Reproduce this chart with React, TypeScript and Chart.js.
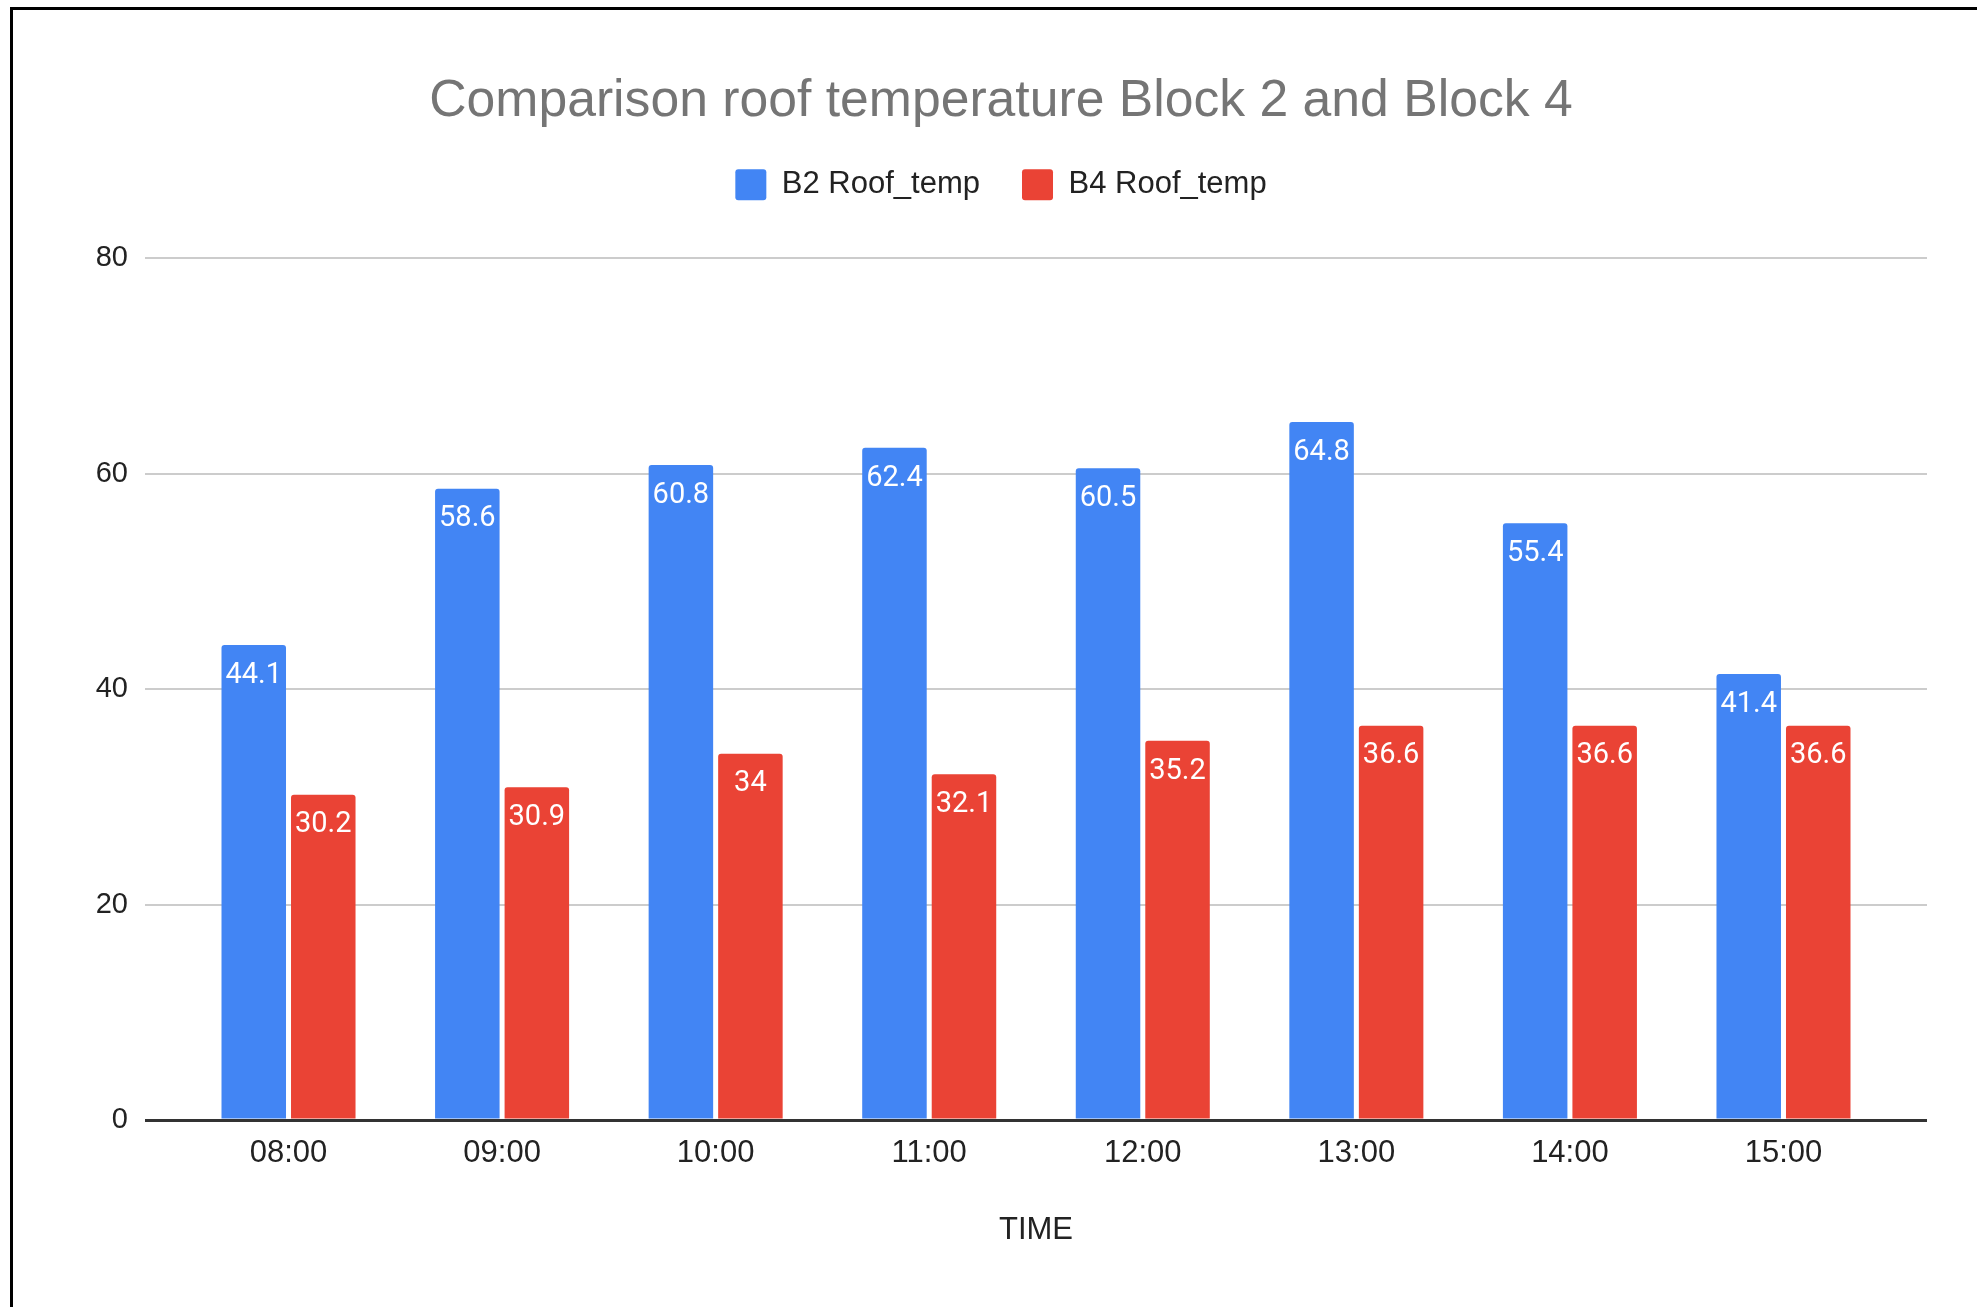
import React, { useEffect, useRef } from 'react';
import { Chart, registerables } from 'chart.js';

Chart.register(...registerables);

// Hourly readings
const TIMES = ['08:00', '09:00', '10:00', '11:00', '12:00', '13:00', '14:00', '15:00'];
const B2_ROOF_TEMP = [44.1, 58.6, 60.8, 62.4, 60.5, 64.8, 55.4, 41.4];
const B4_ROOF_TEMP = [30.2, 30.9, 34, 32.1, 35.2, 36.6, 36.6, 36.6];
const Y_TICKS = [0, 20, 40, 60, 80];
const SERIES_NAMES = ['B2 Roof_temp', 'B4 Roof_temp'];
const CHART_TITLE = 'Comparison roof temperature Block 2 and Block 4';
const X_TITLE = 'TIME';

const BLUE = '#4285F4';
const RED = '#EA4335';
const SANS = '"Liberation Sans", Arial, sans-serif';

// White value labels just inside the top of each bar
const valueLabels = {
  id: 'valueLabels',
  afterDatasetsDraw(chart: any) {
    const ctx = chart.ctx;
    ctx.save();
    ctx.font = '29px Roboto, "Liberation Sans", sans-serif';
    ctx.fillStyle = '#ffffff';
    ctx.textAlign = 'center';
    ctx.textBaseline = 'middle';
    chart.data.datasets.forEach((ds: any, di: number) => {
      const meta = chart.getDatasetMeta(di);
      meta.data.forEach((bar: any, i: number) => {
        const v = ds.data[i].y;
        ctx.fillText(String(v), bar.x, bar.y + 30.5);
      });
    });
    ctx.restore();
  },
};

const toPoints = (values: number[]) => values.map((y, i) => ({ x: i, y }));

export default function App() {
  const canvasRef = useRef<HTMLCanvasElement | null>(null);

  useEffect(() => {
    if (!canvasRef.current) return;
    const barStyle = {
      borderRadius: { topLeft: 3, topRight: 3, bottomLeft: 0, bottomRight: 0 },
      borderSkipped: 'start',
      borderWidth: 0,
      categoryPercentage: 0.651,
      barPercentage: 0.928,
    };
    const chart = new Chart(canvasRef.current, {
      type: 'bar',
      data: {
        datasets: [
          { label: SERIES_NAMES[0], data: toPoints(B2_ROOF_TEMP), backgroundColor: BLUE, ...barStyle },
          { label: SERIES_NAMES[1], data: toPoints(B4_ROOF_TEMP), backgroundColor: RED, ...barStyle },
        ] as any,
      },
      options: {
        responsive: false,
        animation: false,
        devicePixelRatio: 1,
        layout: { padding: { left: 62, right: 50, top: 0, bottom: 0 } },
        font: { family: SANS },
        plugins: {
          title: {
            display: true,
            text: CHART_TITLE,
            color: '#757575',
            font: { family: SANS, size: 51.7, weight: 'normal', lineHeight: 1.0 },
            padding: { top: 65.5, bottom: 0 },
          },
          legend: {
            position: 'top',
            labels: {
              boxWidth: 31,
              boxHeight: 31,
              padding: 42,
              color: '#222222',
              font: { family: SANS, size: 31 },
              useBorderRadius: true,
              borderRadius: 3,
            },
          },
          tooltip: { enabled: false },
        },
        scales: {
          x: {
            type: 'linear',
            min: -0.672,
            max: 7.672,
            offset: false,
            afterBuildTicks: (s: any) => {
              s.ticks = TIMES.map((_, i) => ({ value: i }));
            },
            afterFit: (s: any) => {
              s.height = 187;
            },
            grid: { display: false, drawTicks: false, offset: false },
            border: { display: false },
            ticks: {
              autoSkip: false,
              maxRotation: 0,
              padding: 15,
              color: '#222222',
              font: { family: SANS, size: 31 },
              callback: (v: any) => TIMES[v as number],
            },
            title: {
              display: true,
              text: X_TITLE,
              color: '#222222',
              font: { family: SANS, size: 31 },
              padding: { top: 0, bottom: 58 },
            },
          },
          legendGap: {
            type: 'linear',
            position: 'top',
            grid: { display: false, drawTicks: false },
            border: { display: false },
            ticks: { display: false },
            afterFit: (s: any) => {
              s.height = 48;
            },
          },
          y: {
            min: 0,
            max: 80,
            afterBuildTicks: (s: any) => {
              s.ticks = Y_TICKS.map((v) => ({ value: v }));
            },
            afterFit: (s: any) => {
              s.width = 70;
            },
            border: { display: false },
            grid: {
              drawTicks: false,
              color: (c: any) => (c.tick && c.tick.value === 0 ? '#333333' : '#cccccc'),
              lineWidth: (c: any) => (c.tick && c.tick.value === 0 ? 3 : 2),
            },
            ticks: {
              padding: 17,
              color: '#222222',
              font: { family: SANS, size: 29 },
            },
          },
        } as any,
      } as any,
      plugins: [valueLabels],
    });
    return () => chart.destroy();
  }, []);

  return (
    <div
      style={{
        position: 'fixed',
        left: 0,
        top: 0,
        width: 1977,
        height: 1307,
        overflow: 'hidden',
        background: '#ffffff',
      }}
    >
      <div
        style={{
          position: 'absolute',
          left: 10,
          top: 7,
          width: 2100,
          height: 1400,
          border: '3px solid #000000',
          background: '#ffffff',
        }}
      >
        <canvas
          ref={canvasRef}
          width={1964}
          height={1297}
          style={{ display: 'block', width: 1964, height: 1297 }}
        />
      </div>
    </div>
  );
}
